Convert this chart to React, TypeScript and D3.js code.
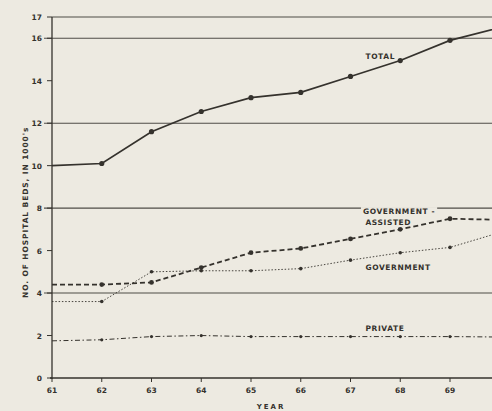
import { useRef, useEffect } from 'react';
import * as d3 from 'd3';

const years = [61, 62, 63, 64, 65, 66, 67, 68, 69, 70];
const total = [10.0, 10.1, 11.6, 12.55, 13.2, 13.45, 14.2, 14.95, 15.9, 16.5];
const govAssisted = [4.4, 4.4, 4.5, 5.2, 5.9, 6.1, 6.55, 7.0, 7.5, 7.45];
const government = [3.6, 3.6, 5.0, 5.05, 5.05, 5.15, 5.55, 5.9, 6.15, 6.85];
const privateBeds = [1.75, 1.8, 1.95, 2.0, 1.95, 1.95, 1.95, 1.95, 1.95, 1.93];

const yTicks = [0, 2, 4, 6, 8, 10, 12, 14, 16, 17];
const gridValues = [4, 8, 12, 16, 17];
// the 70 label is cut off by the page edge in the original, so it is left out
const xTickLabels = ['61', '62', '63', '64', '65', '66', '67', '68', '69'];

const width = 492;
const height = 411;
const paper = '#edeae1';
const ink = '#35322d';

export default function App() {
  const svgRef = useRef<SVGSVGElement>(null);

  useEffect(() => {
    const svg = d3.select(svgRef.current);
    svg.selectAll('*').remove();

    const x = d3.scaleLinear().domain([61, 70]).range([52, 499.75]);
    const y = d3.scaleLinear().domain([0, 17]).range([378, 17]);

    svg.append('rect').attr('width', width).attr('height', height).attr('fill', paper);

    // Gridlines
    for (const v of gridValues) {
      svg.append('line')
        .attr('x1', v === 17 ? x(61) : 44)
        .attr('x2', width)
        .attr('y1', y(v))
        .attr('y2', y(v))
        .attr('stroke', ink)
        .attr('stroke-width', 1.1)
        .attr('opacity', 0.85);
    }

    // Axes
    svg.append('line')
      .attr('x1', x(61)).attr('x2', x(61))
      .attr('y1', y(17)).attr('y2', y(0) + 1)
      .attr('stroke', ink).attr('stroke-width', 1.3);
    svg.append('line')
      .attr('x1', x(61) - 2).attr('x2', width)
      .attr('y1', y(0)).attr('y2', y(0))
      .attr('stroke', ink).attr('stroke-width', 1.3);

    const tickFont = "'DejaVu Sans', sans-serif";

    for (const t of yTicks) {
      svg.append('line')
        .attr('x1', x(61) - 5).attr('x2', x(61))
        .attr('y1', y(t)).attr('y2', y(t))
        .attr('stroke', ink).attr('stroke-width', 1);
      svg.append('text')
        .attr('x', x(61) - 10)
        .attr('y', y(t) + 3)
        .attr('text-anchor', 'end')
        .attr('fill', ink)
        .attr('font-size', '7.5px')
        .attr('font-weight', 'bold')
        .attr('font-family', tickFont)
        .text(t);
    }

    years.forEach((yr, i) => {
      svg.append('line')
        .attr('x1', x(yr)).attr('x2', x(yr))
        .attr('y1', y(0)).attr('y2', y(0) + 4)
        .attr('stroke', ink).attr('stroke-width', 1);
      if (xTickLabels[i] === undefined) return;
      svg.append('text')
        .attr('x', x(yr))
        .attr('y', y(0) + 15)
        .attr('text-anchor', 'middle')
        .attr('fill', ink)
        .attr('font-size', '7.5px')
        .attr('font-weight', 'bold')
        .attr('font-family', tickFont)
        .text(xTickLabels[i]);
    });

    svg.append('text')
      .attr('x', 271)
      .attr('y', 409)
      .attr('text-anchor', 'middle')
      .attr('fill', ink)
      .attr('font-size', '7px')
      .attr('font-weight', 'bold')
      .attr('letter-spacing', '2px')
      .attr('font-family', tickFont)
      .text('YEAR');

    svg.append('text')
      .attr('transform', `translate(28,${y(7.8)}) rotate(-90)`)
      .attr('text-anchor', 'middle')
      .attr('fill', ink)
      .attr('font-size', '7.5px')
      .attr('font-weight', 'bold')
      .attr('letter-spacing', '0.9px')
      .attr('font-family', tickFont)
      .text("NO. OF HOSPITAL BEDS, IN 1000's");

    const line = d3.line<number>()
      .x((_, i) => x(years[i]))
      .y((d) => y(d));

    const series = [
      { data: privateBeds, width: 1, dash: '5,2.5,1.5,2.5', r: 1.6 },
      { data: government, width: 0.9, dash: '1.5,1.8', r: 1.8 },
      { data: govAssisted, width: 1.8, dash: '5,3', r: 2.4 },
      { data: total, width: 1.7, dash: null as string | null, r: 2.6 },
    ];

    for (const s of series) {
      svg.append('path')
        .datum(s.data)
        .attr('d', line)
        .attr('fill', 'none')
        .attr('stroke', ink)
        .attr('stroke-width', s.width)
        .attr('stroke-dasharray', s.dash);
      svg.selectAll(null)
        .data(s.data.slice(1))
        .join('circle')
        .attr('cx', (_, i) => x(years[i + 1]))
        .attr('cy', (d) => y(d))
        .attr('r', s.r)
        .attr('fill', ink);
    }

    // Series labels
    const labels = [
      { text: 'TOTAL', yr: 67.3, v: 15.0, bg: false },
      { text: 'GOVERNMENT -', yr: 67.25, v: 7.72, bg: true },
      { text: 'ASSISTED', yr: 67.3, v: 7.2, bg: false },
      { text: 'GOVERNMENT', yr: 67.3, v: 5.08, bg: false },
      { text: 'PRIVATE', yr: 67.3, v: 2.21, bg: true },
    ];
    for (const l of labels) {
      const t = svg.append('text')
        .attr('x', x(l.yr))
        .attr('y', y(l.v))
        .attr('fill', ink)
        .attr('font-size', '7.5px')
        .attr('font-weight', 'bold')
        .attr('letter-spacing', '0.6px')
        .attr('font-family', tickFont)
        .text(l.text);
      if (l.bg) {
        const bb = (t.node() as SVGTextElement).getBBox();
        svg.insert('rect', () => t.node())
          .attr('x', bb.x - 2)
          .attr('y', bb.y)
          .attr('width', bb.width + 4)
          .attr('height', bb.height)
          .attr('fill', paper);
      }
    }
  }, []);

  return (
    <svg
      ref={svgRef}
      width={width}
      height={height}
      viewBox={`0 0 ${width} ${height}`}
      style={{ position: 'absolute', left: 0, top: 0, display: 'block' }}
    />
  );
}
